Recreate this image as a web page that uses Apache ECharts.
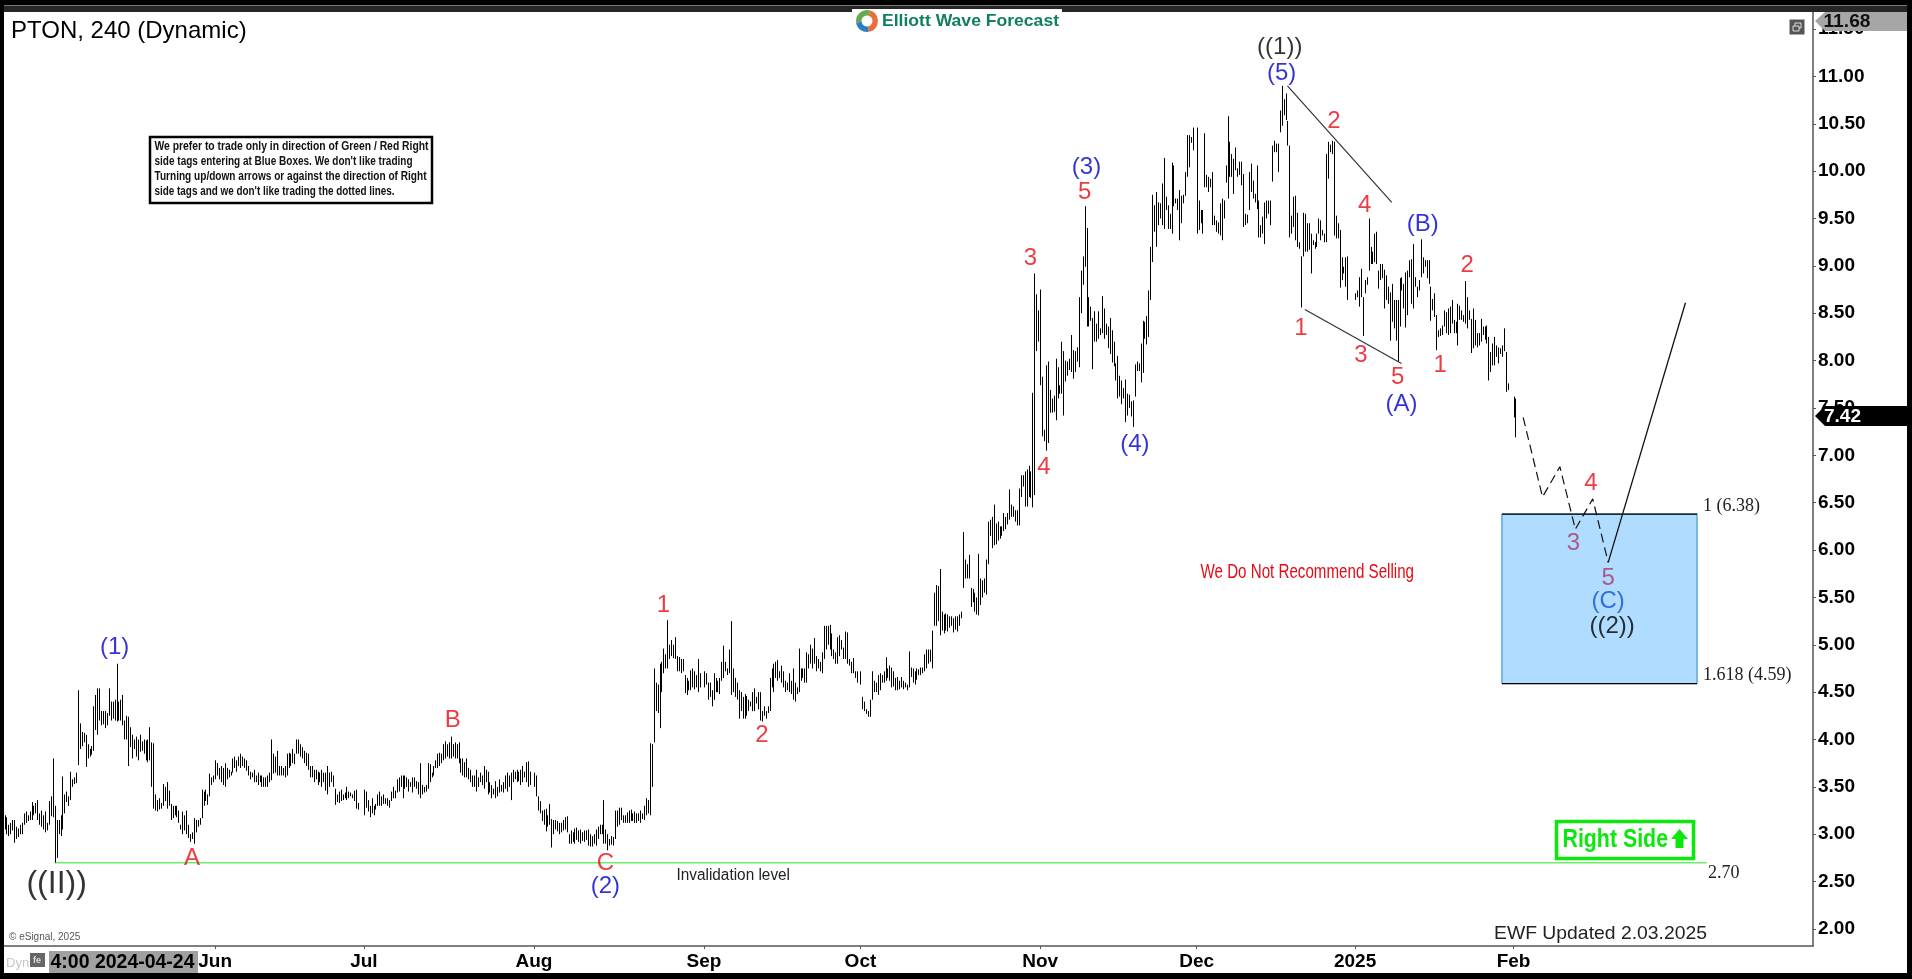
<!DOCTYPE html>
<html><head><meta charset="utf-8">
<style>html,body{margin:0;padding:0;background:#000;overflow:hidden}#c{width:1912px;height:979px}</style>
<script src="https://cdn.jsdelivr.net/npm/echarts@6/dist/echarts.min.js"></script>
</head><body><div id="c"></div>
<script>
// Bars per month: high,low,high,low...
const barsMay=[3.2,3.05,3.18,3,3.1,2.98,3.12,3,3.15,3.04,3.15,2.91,3.08,2.95,3.06,2.97,3.1,3,3.12,3,3.22,3.1,3.24,3.12,3.2,3.14,3.24,3.15,3.34,3.15,3.3,3.2,3.33,3.22,3.36,3.15,3.22,3.1,3.25,3.08,3.2,3.05,3.24,3.02,3.12,3.04,3.35,3.1,3.4,3.19,3.8,3.18,3.3,2.7,3.15,2.75,3.15,3,3.2,2.98,3.61,3.05,3.42,3.22,3.45,3.34,3.4,3.3,3.66,3.36,3.58,3.5,3.6,3.53,3.65,3.54,4.52,3.73,4.17,3.9,4.08,3.93,4.07,3.97,4.05,3.71,3.95,3.8,3.9,3.82,3.93,3.84,4.35,3.88,4.47,4.1,4.54,4.05,4.54,4.2,4.3,4.15,4.3,4.16,4.3,4.12,4.28,4.15,4.54,4.25,4.4,4.2,4.4,4.22,4.42,4.2,4.8,4.19,4.4,4.2,4.42,4.2,4.47,4.15,4.2,4,4.25,4,4.24,3.72,4.13,3.92,4.05,3.8,4,3.9,4.03,3.82,4,3.78,4.05,3.87,3.98,3.88,4,3.85,3.99,3.78,4,3.76,4.13,3.78,3.97,3.5,3.96,3.27,3.42,3.25,3.36,3.24,3.38,3.26,3.33,3.27,3.53,3.3,3.5,3.35,3.55,3.27,3.46,3.3,3.32,3.15,3.3,3.17,3.3,3.2,3.3,3.18,3.25,3.12,3.1,3.05,3.24,3,3.2,3.04,3.25,3,3.1,2.96,3,2.92,3.02,2.95,3.17,2.9,3.15,3.02,3.15,3.08,3.17,3.1,3.47,3.17,3.45,3.3,3.47,3.35,3.42,3.31,3.64,3.4,3.6,3.52,3.62,3.55];
const barsJun=[3.78,3.58,3.75,3.62,3.7,3.58,3.72,3.55,3.7,3.52,3.75,3.5,3.7,3.58,3.68,3.6,3.66,3.62,3.8,3.65,3.82,3.7,3.78,3.66,3.82,3.72,3.85,3.7,3.82,3.72,3.8,3.7,3.78,3.67,3.72,3.62,3.66,3.58,3.65,3.6,3.68,3.55,3.62,3.55,3.65,3.52,3.62,3.55,3.62,3.5,3.6,3.5,3.6,3.5,3.62,3.5,3.65,3.55,4,3.57,3.85,3.64,3.82,3.65,3.88,3.62,3.72,3.62,3.72,3.62,3.7,3.62,3.72,3.6,3.85,3.62,3.86,3.7,3.85,3.72,3.9,3.75,3.85,3.74,4,3.85,4,3.85,3.95,3.82,3.92,3.8,3.88,3.75,3.86,3.72,3.85,3.68,3.72,3.6,3.72,3.6,3.68,3.55,3.68,3.58,3.66,3.52,3.65,3.55,3.68,3.5,3.65,3.55,3.65,3.46,3.72,3.42,3.65,3.5,3.66,3.55,3.62,3.5,3.48,3.31,3.42,3.34,3.45,3.33,3.47,3.35,3.42,3.36,3.44,3.38,3.5,3.36,3.45,3.38,3.44,3.4,3.42,3.38,3.46,3.35,3.47,3.27,3.33,3.26];
const barsJul=[3.47,3.2,3.45,3.28,3.36,3.24,3.3,3.18,3.38,3.22,3.3,3.2,3.32,3.26,3.42,3.3,3.45,3.3,3.4,3.3,3.42,3.32,3.38,3.32,3.38,3.3,3.36,3.28,3.45,3.35,3.5,3.38,3.46,3.38,3.58,3.44,3.6,3.45,3.62,3.5,3.62,3.38,3.62,3.48,3.6,3.5,3.58,3.45,3.55,3.5,3.6,3.44,3.6,3.5,3.56,3.48,3.55,3.42,3.75,3.38,3.52,3.42,3.5,3.44,3.52,3.45,3.75,3.48,3.74,3.55,3.65,3.6,3.72,3.62,3.78,3.7,3.85,3.7,3.86,3.72,3.85,3.75,3.95,3.78,3.98,3.8,3.95,3.82,3.97,3.8,4.03,3.8,3.95,3.82,3.97,3.8,3.95,3.8,3.97,3.75,3.8,3.65,3.8,3.62,3.76,3.6,3.8,3.6,3.7,3.58,3.68,3.55,3.62,3.5,3.62,3.5,3.68,3.45,3.6,3.5,3.65,3.55,3.62,3.52,3.72,3.48,3.68,3.55,3.66,3.42,3.55,3.44,3.52,3.38,3.48,3.42,3.56,3.38,3.5,3.4,3.58,3.44,3.52,3.45,3.55,3.44,3.62,3.48,3.65,3.45,3.62,3.5,3.65,3.36,3.68,3.55,3.66,3.58,3.68,3.55,3.66,3.56,3.68,3.52,3.72,3.55,3.66,3.6,3.76,3.55,3.77,3.5,3.66,3.52];
const barsAug=[3.65,3.5,3.62,3.4,3.4,3.25,3.35,3.22,3.25,3.14,3.26,3.1,3.27,3.03,3.2,3.08,3.32,3.1,3.16,2.86,3.15,3,3.15,3.05,3.14,3.03,3.12,3,3.12,3.02,3.15,3.04,3.18,3.05,3.19,3.02,3,2.9,3.04,2.9,3.02,2.92,3.06,2.9,3.07,2.94,3.04,2.92,3.05,2.9,3.02,2.93,3.04,2.92,3.04,2.94,3.05,2.88,3,2.87,2.98,2.87,3,2.9,3.05,2.88,3.08,2.95,3.1,3,3.1,3,3.36,2.9,3.05,2.9,3,2.83,2.95,2.88,2.98,2.89,2.97,2.88,3.25,2.95,3.25,3.08,3.28,3.1,3.28,3.15,3.2,3.12,3.2,3.12,3.23,3.12,3.25,3.12,3.26,3.14,3.22,3.14,3.24,3.12,3.22,3.12,3.22,3.14,3.25,3.12,3.22,3.16,3.3,3.15,3.38,3.2,3.36,3.22,3.96,3.2,3.95,3.5,4.75,3.97,4.6,4.3,4.58,4.28,4.8,4.12,4.82,4.5,4.96,4.7,4.9,4.75,5.26,4.75,5,4.85,5.05,4.88,5,4.86,5.08,4.85,4.88,4.72,4.87,4.72,4.85,4.7,4.85,4.72,4.68,4.49,4.65,4.47,4.62,4.52,4.73,4.52,4.75,4.55,4.72,4.53,4.68,4.55,4.85,4.5,4.7,4.55];
const barsSep=[4.72,4.55,4.7,4.58,4.6,4.42,4.6,4.45,4.52,4.35,4.7,4.42,4.65,4.5,4.62,4.5,4.65,4.48,4.82,4.62,4.99,4.65,4.82,4.72,4.75,4.68,4.95,4.7,5.25,4.47,4.75,4.5,4.65,4.45,4.6,4.42,4.52,4.22,4.5,4.3,4.45,4.22,4.48,4.22,4.46,4.25,4.42,4.3,4.4,4.35,4.5,4.3,4.54,4.3,4.45,4.38,4.5,4.32,4.5,4.2,4.3,4.19,4.35,4.25,4.3,4.22,4.35,4.28,4.65,4.3,4.75,4.55,4.8,4.5,4.82,4.65,4.84,4.62,4.72,4.65,4.78,4.6,4.72,4.55,4.62,4.5,4.6,4.52,4.7,4.5,4.62,4.48,4.75,4.42,4.6,4.4,4.55,4.48,4.96,4.5,4.75,4.62,4.75,4.65,4.75,4.6,4.92,4.6,4.9,4.75,5,4.8,4.96,4.75,5.07,4.8,4.88,4.72,4.85,4.75,4.82,4.72,4.92,4.7,5.2,4.85,5.2,4.95,5.2,5,5.21,4.95,5.12,4.88,4.95,4.85,4.92,4.8,5.08,4.8,5.1,4.88,5.05,4.95,4.97,4.85,5.14,4.85,5.13,4.8,4.85,4.78,4.82,4.7,4.86,4.7,4.72,4.65,4.72,4.6];
const barsOct=[4.72,4.58,4.45,4.32,4.4,4.3,4.32,4.27,4.3,4.24,4.42,4.24,4.72,4.42,4.62,4.5,4.6,4.5,4.68,4.47,4.7,4.52,4.68,4.6,4.72,4.6,4.87,4.62,4.75,4.65,4.78,4.62,4.76,4.55,4.72,4.56,4.65,4.52,4.66,4.52,4.62,4.53,4.66,4.55,4.62,4.53,4.6,4.55,4.58,4.52,4.93,4.55,4.76,4.66,4.75,4.6,4.72,4.58,4.75,4.63,4.74,4.68,4.76,4.68,4.76,4.7,4.9,4.72,4.95,4.75,4.95,4.8,4.95,4.82,5.15,4.75,5.55,5.2,5.63,5.2,5.62,5.25,5.8,5.1,5.35,5.15,5.32,5.12,5.33,5.15,5.32,5.14,5.3,5.18,5.3,5.2,5.28,5.13,5.3,5.16,5.3,5.14,5.32,5.2,5.35,5.28,6.19,5.6,5.9,5.7,5.85,5.7,5.95,5.7,5.6,5.4,5.59,5.45,5.55,5.35,5.5,5.32,5.96,5.31,5.7,5.42,5.68,5.5,5.7,5.55,5.9,5.53,6.3,5.85,6.32,6.15,6.35,6.02,6.48,6.05,6.28,6.06,6.3,6.1,6.25,6.12,6.25,6.15,6.39,6.2,6.35,6.22,6.39,6.27,6.64,6.32,6.48,6.35,6.46,6.35,6.42,6.3,6.42,6.26,6.65,6.26,6.79,6.56,6.79,6.67,6.83,6.46,6.85,6.46,6.89,6.56,6.83,6.55,7.66,6.45,8.92,6.58,8.7,8.1,8.53,8.2,8.53,8.18];
const barsNov=[8.75,7.74,7.83,7.2,7.27,7.15,7.95,7.05,7.99,7.13,7.69,7.45,7.6,7.45,7.63,7.46,8.02,7.37,7.93,7.6,7.74,7.65,8.2,7.65,8.1,7.42,8,7.78,7.99,7.84,8.02,7.9,8.27,7.88,8.11,7.81,8.1,7.88,8.14,7.99,8.67,7.93,8.95,8.5,9.1,8.8,9.63,8.99,9.4,8.36,8.67,8.36,8.57,8.42,8.45,7.91,8.52,8.2,8.39,8.2,8.52,8.23,8.34,8.27,8.68,8.29,8.55,8.23,8.39,8.27,8.36,8.13,8.45,8.07,8.32,7.98,8.2,7.94,7.97,7.79,8.05,7.6,7.84,7.62,7.79,7.54,7.71,7.6,7.8,7.35,7.65,7.42,7.64,7.5,7.57,7.41,7.58,7.3,7.96,7.62,7.99,7.89,7.97,7.89,8.18,7.77,8.42,7.87,8.41,8.23,8.47,8.17,8.74,8.25,9.2,8.64,9.75,9.04,9.64,9.36,9.78,9.2,9.67,9.43,9.66,9.5,9.87,9.43,10.14,9.39,9.73,9.59,9.64,9.39,9.55,9.39,10.09,9.34,10.06,9.63,9.71,9.66,9.71,9.59,9.8,9.27,9.74,9.45,9.75,9.66,9.99,9.74,10.38,9.94,10.38,10.04,10.36,10.3,10.46,10.22];
const barsDec=[10.46,9.34,9.69,9.38,9.59,9.45,9.59,9.34,10.4,9.83,9.96,9.83,9.94,9.78,9.92,9.83,9.99,9.43,9.53,9.43,9.48,9.36,9.46,9.34,9.66,9.32,9.71,9.27,9.69,9.5,10.06,9.88,10.58,9.71,10.31,9.94,10.18,9.94,10.13,9.76,10.25,10.01,10.03,9.94,10.1,9.96,10.1,9.85,9.97,9.41,9.55,9.43,9.54,9.45,9.99,9.59,10.08,9.78,9.9,9.71,9.76,9.67,10.06,9.6,9.69,9.3,9.43,9.3,9.52,9.34,9.67,9.23,9.69,9.5,9.69,9.55,9.69,9.43,10.27,9.89,10.32,10.2,10.29,10.2,10.29,9.99,10.64,10.41,10.9,10.48,10.76,10.59,10.82,10.54,10.53,10.27,10.27,9.3,9.53,9.34,9.73,9.41,9.74,9.27,9.56,9.2,9.25,9.18,9.1,8.56,9.56,9.1,9.55,9.15,9.45,9.15,9.45,9.17,9.34,8.92,9.27,9.22,9.25,9.18,9.34,9.2,9.5,9.34,9.48,9.27,9.38,9.32,9.34,9.25,10.18,9.25,10.31,9.92,10.28,10.2,10.32,10.18,10.31,9.32,9.53,9.29,9.45,9.29,9.38,8.77,9.09,8.85,8.99,8.92,9.09,8.78,9.1,8.64];
const barsJan=[8.71,8.64,8.74,8.67,8.88,8.57,8.97,8.67,8.67,8.26,8.85,8.71,8.88,8.8,9.5,8.95,9.2,9.02,9.15,9.02,9.34,9.04,9.36,9.02,8.95,8.76,9.02,8.85,9.02,8.87,8.96,8.55,8.9,8.64,8.78,8.6,8.72,8.21,8.81,8.41,8.64,8.34,8.64,8.21,8.64,7.99,8.87,8.36,8.88,8.74,8.81,8.55,8.93,8.35,8.95,8.48,9.06,8.88,9.07,8.6,9.23,8.55,8.88,8.78,8.78,8.67,8.85,8.74,9.28,8.88,9.09,8.92,9.06,8.99,9.06,8.87,9.06,8.81,8.78,8.42,8.65,8.53,8.71,8.46,8.48,8.11,8.32,8.25,8.34,8.26,8.37,8.27,8.53,8.36,8.51,8.29,8.55,8.27,8.57,8.29,8.64,8.39,8.43,8.29,8.41,8.29,8.6,8.16,8.58,8.43,8.53,8.43,8.48,8.41,8.84,8.39,8.67,8.34,8.53,8.43,8.44,8.08,8.55,8.13,8.43,8.16,8.29,8.14,8.29,8.16,8.44,8.2,8.36,8.27,8.36,8.22,8.37,8.18,8.25,7.79,8.09,7.88,8.18,7.95,8.25,7.95,8.16,8.04,8.14,7.97,8.13,8.07,8.16,8.04,8.34,8.1,8.09,7.67,7.76,7.69];
const barsFeb=[7.62,7.4,7.6,7.19];
const monthBars=[barsMay,barsJun,barsJul,barsAug,barsSep,barsOct,barsNov,barsDec,barsJan,barsFeb];
const monthStarts=[0,109,186,274,362,443,536,617,699,781];
const monthLabels=['','Jun','Jul','Aug','Sep','Oct','Nov','Dec','2025','Feb'];
const slotCount=937;
const priceTicks=[2,2.5,3,3.5,4,4.5,5,5.5,6,6.5,7,7.5,8,8.5,9,9.5,10,10.5,11,11.5];

// Wave labels: [text, bar, price]
const redLabels=[['A',97,2.75],['B',232,4.2],['C',311,2.69],['1',341,5.42],['2',392,4.04],['3',531,9.08],['4',538,6.87],['5',559,9.78],['2',688,10.53],['4',704,9.64],['1',671,8.34],['3',702,8.06],['5',721,7.82],['1',743,7.95],['2',757,9.01],['4',821,6.7]];
const plumLabels=[['3',812,6.07],['5',830,5.7]];
const blueLabels=[['(1)',57,4.97],['(2)',311,2.45],['(3)',560,10.04],['(4)',585,7.12],['(5)',661,11.03],['(A)',723,7.54],['(B)',734,9.44]];
const brightBlueLabels=[['(C)',830,5.46]];
const blackLabels=[['((1))',660,11.31],['((2))',832,5.19]];
const bigBlackLabels=[['((II))',27,2.47]];

// Drawn lines: [bar, price]
const invalidationLine=[[26,2.7],[881,2.7]];
const upperWedge=[[664,10.9],[718,9.67]];
const lowerWedge=[[673,8.54],[723,7.97]];
const projectedPath=[[786,7.4],[796,6.56],[805,6.88],[813,6.22],[822,6.54],[830,5.87]];
const projectedRise=[[830,5.87],[870,8.61]];
const blueBox=[775,876,6.38,4.59];
const lastPrice='7.42', topPrice='11.68';

const barRows=[];
monthBars.forEach((arr,m)=>{for(let j=0;j+1<arr.length;j+=2){barRows.push([monthStarts[m]+j/2,arr[j],arr[j+1]]);}});
const categories=new Array(slotCount).fill('');
monthStarts.forEach((s,m)=>{categories[s]=monthLabels[m];});

const FF='"Liberation Sans",Arial,sans-serif';
const chart=echarts.init(document.getElementById('c'),null,{renderer:'canvas'});
const mc=document.createElement('canvas').getContext('2d');
function fit(text,font,left,cy,width,fill,z){
  mc.font=font;const s=width/mc.measureText(text).width;
  return {type:'text',x:left,y:cy,scaleX:s,z:z||60,silent:true,style:{text,font,fill,textAlign:'left',verticalAlign:'middle'}};
}
function plain(text,font,left,cy,fill,z){
  return {type:'text',x:left,y:cy,z:z||60,silent:true,style:{text,font,fill,textAlign:'left',verticalAlign:'middle'}};
}
function rect(x,y,w,h,fill,z){return {type:'rect',z:z||50,silent:true,shape:{x,y,width:w,height:h},style:{fill}};}
function labelSeries(list,color,size){
  return {type:'scatter',silent:true,z:6,symbol:'circle',symbolSize:1,itemStyle:{color:'transparent'},
    data:list.map(l=>({value:[l[1],l[2]],label:{formatter:l[0]}})),
    label:{show:true,position:'inside',color,fontSize:size,fontFamily:FF}};
}
function lineSeries(data,color,width,type,z){
  return {type:'line',silent:true,z:z||4,data,showSymbol:false,symbol:'none',animation:false,lineStyle:{color,width,type:type||'solid'}};
}
const ring=(start,end,fill)=>({type:'sector',z:92,silent:true,shape:{cx:867,cy:21,r:11,r0:5.5,startAngle:start,endAngle:end},style:{fill}});
const noteLines=[["We prefer to trade only in direction of Green / Red Right",147,274],["side tags entering at Blue Boxes. We don't like trading",162,258],["Turning up/down arrows or against the direction of Right",177,272],["side tags and we don't like trading the dotted lines.",192,240]];

chart.setOption({
  animation:false,backgroundColor:'#fff',
  title:{text:'PTON, 240 (Dynamic)',left:6,top:14,textStyle:{fontFamily:FF,fontSize:24,fontWeight:'normal',color:'#000'}},
  grid:{left:4.5,right:99,top:12,bottom:33},
  xAxis:{type:'category',data:categories,boundaryGap:false,
    axisLine:{lineStyle:{color:'#555',width:1.5}},
    axisTick:{length:3,interval:(i,v)=>v!=='',lineStyle:{color:'#555'}},
    axisLabel:{interval:(i,v)=>v!=='',color:'#000',fontFamily:FF,fontWeight:'bold',fontSize:19,margin:6},
    splitLine:{show:false}},
  yAxis:{type:'value',position:'right',min:1.82,max:11.68,scale:true,
    axisLine:{show:true,lineStyle:{color:'#555',width:1.5}},
    axisTick:{show:true,length:3,customValues:priceTicks,lineStyle:{color:'#555'}},
    axisLabel:{customValues:priceTicks,formatter:v=>v.toFixed(2),color:'#000',fontFamily:FF,fontWeight:'bold',fontSize:19,margin:5},
    splitLine:{show:false}},
  series:[
    {type:'custom',z:1,silent:true,clip:false,data:[blueBox],encode:{x:[0,1],y:[2,3]},
     renderItem:(p,api)=>{const a=api.coord([api.value(0),api.value(2)]),b=api.coord([api.value(1),api.value(3)]);
       return {type:'group',children:[
         {type:'rect',shape:{x:a[0],y:a[1],width:b[0]-a[0],height:b[1]-a[1]},style:{fill:'#b0dcff',stroke:'#1f86c8',lineWidth:1}},
         {type:'line',shape:{x1:a[0],y1:a[1],x2:b[0],y2:a[1]},style:{stroke:'#000',lineWidth:1.3}},
         {type:'line',shape:{x1:a[0],y1:b[1],x2:b[0],y2:b[1]},style:{stroke:'#000',lineWidth:1.3}}]};}},
    lineSeries(invalidationLine,'#6cee6c',1.5,'solid',2),
    {type:'custom',z:3,silent:true,data:barRows,encode:{x:0,y:[1,2]},
     renderItem:(p,api)=>{const a=api.coord([api.value(0),api.value(1)]),b=api.coord([api.value(0),api.value(2)]);
       const x=Math.round(a[0])+0.5;
       return {type:'line',shape:{x1:x,y1:a[1],x2:x,y2:b[1]},style:{stroke:'#000',lineWidth:1}};}},
    lineSeries(upperWedge,'#333',1.2),
    lineSeries(lowerWedge,'#333',1.2),
    lineSeries(projectedPath,'#111',1.2,[9,5]),
    lineSeries(projectedRise,'#111',1.3),
    labelSeries(redLabels,'#e60a14',24),
    labelSeries(plumLabels,'#a83a66',24),
    labelSeries(blueLabels,'#0000cc',24),
    labelSeries(brightBlueLabels,'#1450d8',24),
    labelSeries(blackLabels,'#000',24),
    labelSeries(bigBlackLabels,'#000',32)
  ],
  graphic:{elements:[
    rect(0,0,1912,5,'#000',90),rect(0,5,1912,1,'#777',90),rect(0,6,1912,6,'#262626',90),
    rect(0,0,4,979,'#000',90),rect(1907,0,5,979,'#000',90),rect(0,973,1912,6,'#000',90),
    // logo
    rect(852,9,210,27,'#fff',91),
    ring(Math.PI*0.95,Math.PI*1.6,'#6aa84f'),
    ring(Math.PI*1.6,Math.PI*2.45,'#e8703a'),
    ring(Math.PI*0.45,Math.PI*0.95,'#2a7fc0'),
    fit('Elliott Wave Forecast','bold 17px '+FF,882,21.5,177,'#0e7f5f',92),
    // note box
    {type:'rect',z:60,silent:true,shape:{x:150,y:137,width:282,height:66},style:{fill:'#fff',stroke:'#000',lineWidth:2.5}},
    ...noteLines.map(l=>fit(l[0],'bold 12.5px '+FF,154.5,l[1],l[2],'#111',61)),
    // text notes
    fit('We Do Not Recommend Selling','20px '+FF,1200.5,572.5,213.5,'#e60a14'),
    fit('Invalidation level','16px '+FF,676.5,876,113.5,'#222'),
    fit('EWF Updated 2.03.2025','19px '+FF,1494,934,213,'#222'),
    plain('1 (6.38)','18px "Liberation Serif",serif',1703,506.5,'#222'),
    plain('1.618 (4.59)','18px "Liberation Serif",serif',1703,675,'#222'),
    plain('2.70','18px "Liberation Serif",serif',1708,873,'#222'),
    plain('\u00a9 eSignal, 2025','10px '+FF,9,937.5,'#555'),
    // right side tag
    {type:'rect',z:60,silent:true,shape:{x:1556.5,y:821.5,width:137,height:37},style:{fill:'#fff',stroke:'#0ce80c',lineWidth:3.5}},
    fit('Right Side','bold 26px '+FF,1562.5,840,105.5,'#0ce80c',61),
    {type:'polygon',z:61,silent:true,shape:{points:[[1679.5,829],[1688,839],[1683.5,839],[1683.5,848],[1675.5,848],[1675.5,839],[1671,839]]},style:{fill:'#0ce80c'}},
    // price tags
    {type:'polygon',z:70,silent:true,shape:{points:[[1815,416],[1825,406],[1907,406],[1907,426],[1825,426]]},style:{fill:'#000'}},
    fit(lastPrice,'bold 19px '+FF,1824,416.5,37,'#fff',71),
    {type:'polygon',z:70,silent:true,shape:{points:[[1815,21],[1825,12],[1907,12],[1907,31],[1825,31]]},style:{fill:'#a6a6a6'}},
    fit(topPrice,'bold 19px '+FF,1823.5,21.5,47,'#111',71),
    // window icon
    rect(1789.5,19.5,15,15,'#555',70),
    {type:'rect',z:71,silent:true,shape:{x:1795,y:23,width:6,height:5},style:{fill:'none',stroke:'#ddd',lineWidth:1}},
    {type:'rect',z:72,silent:true,shape:{x:1793,y:26,width:6,height:5},style:{fill:'#555',stroke:'#ddd',lineWidth:1}},
    // bottom-left status
    rect(49,951,149,22,'#a0a0a0',70),
    fit('4:00 2024-04-24','bold 20px '+FF,50.5,962.5,144,'#000',71),
    plain('Dyn','13px '+FF,6,963,'#c8c8c8',71),
    rect(30,953,15,14,'#666',70),
    plain('fe','bold 9px '+FF,33,961,'#ddd',71)
  ]}
});
</script></body></html>
